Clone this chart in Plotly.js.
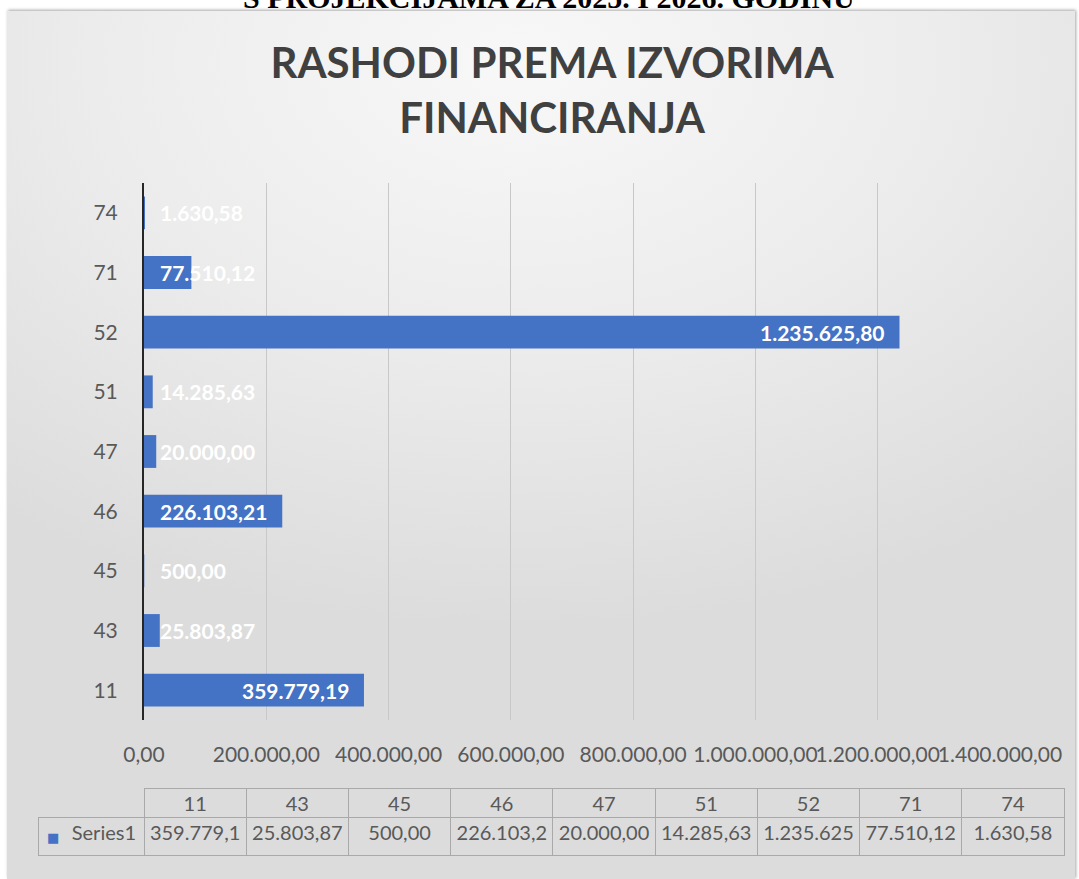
<!DOCTYPE html>
<html><head><meta charset="utf-8">
<script src="https://cdn.plot.ly/plotly-3.0.1.min.js"></script>
<style>
html,body{margin:0;padding:0;background:#fff;width:1079px;height:879px;overflow:hidden;}
#panel{position:absolute;left:7px;top:11px;width:1068px;height:868px;
background: radial-gradient(ellipse 80% 65% at 48% 6%, #f8f8f8 0%, #ececec 50%, #dcdcdc 100%);
box-shadow: 1px -1px 3px rgba(0,0,0,0.35);}
#chart{position:absolute;left:0;top:0;width:1079px;height:879px;}
</style></head><body>
<div id="panel"></div><div id="chart"></div>
<script>
const categories = ['11','43','45','46','47','51','52','71','74'];
const values = [359779.19, 25803.87, 500.00, 226103.21, 20000.00, 14285.63, 1235625.80, 77510.12, 1630.58];
const tickValues = [0,200000,400000,600000,800000,1000000,1200000,1400000];
const seriesName = 'Series1';
const chartTitle = 'RASHODI PREMA IZVORIMA<br>FINANCIRANJA';
const pageHeading = 'S PROJEKCIJAMA ZA 2025. I 2026. GODINU';
const barColor = '#4472C4';

function fmt(v){
  const s = v.toFixed(2);
  let parts = s.split('.');
  const i = parts[0].replace(/\B(?=(\d{3})+(?!\d))/g,'.');
  return i + ',' + parts[1];
}

const xMax = 1400000;
const plotPx = 856;
const annotations = categories.map((c,i)=>{
  const label = fmt(values[i]);
  const barPx = values[i]/xMax*plotPx;
  const textW = label.length*10.6;
  const fits = barPx >= textW + 24;
  return {
    xref:'x', yref:'y', x: fits ? values[i] : 0, y: i,
    text: label, showarrow:false,
    xanchor: fits ? 'right' : 'left', xshift: fits ? -13 : 14,
    yanchor:'middle',
    font:{family:'Lato, sans-serif', size:21, color:'#ffffff', weight:'bold'}
  };
});
annotations.push({
  xref:'paper', yref:'paper', x:(549-38)/1026, y:(859+3)/676,
  xanchor:'center', yanchor:'middle', showarrow:false,
  text: pageHeading,
  font:{family:'Liberation Serif, Times New Roman, serif', size:30, color:'#000000', weight:'bold'}
});
// legend key square in the data table
annotations.push({
  xref:'paper', yref:'paper', x:(53-38)/1026, y:(859-837)/676,
  xanchor:'center', yanchor:'middle', showarrow:false,
  text:'■', font:{family:'DejaVu Sans', size:13, color:barColor}
});

const headerVals = [''].concat(categories);
const cellVals = [[seriesName]].concat(values.map(v=>[fmt(v).slice(0,9)]));
const lineCol = '#a9a9a9';
const headerLine = ['rgba(0,0,0,0)'].concat(categories.map(()=>lineCol));
const cellAlign = ['right'].concat(categories.map(()=>'center'));

const traces = [
  {
    type:'bar', orientation:'h', y:categories, x:values, name:seriesName,
    marker:{color:barColor}, hoverinfo:'skip'
  },
  {
    type:'table',
    domain:{x:[0,1], y:[0, 71/676]},
    columnwidth:[106].concat(categories.map(()=>102.2)),
    header:{values:headerVals, height:29, align:'center',
      fill:{color:'rgba(0,0,0,0)'}, line:{color:headerLine, width:1},
      font:{family:'Lato, sans-serif', size:20, color:'#595959'}},
    cells:{values:cellVals, height:38, align:cellAlign,
      fill:{color:'rgba(0,0,0,0)'}, line:{color:lineCol, width:1},
      font:{family:'Lato, sans-serif', size:20, color:'#595959'}}
  }
];

const layout = {
  width:1079, height:879,
  margin:{l:38, r:15, t:183, b:20, pad:0},
  paper_bgcolor:'rgba(0,0,0,0)', plot_bgcolor:'rgba(0,0,0,0)',
  separators:',.',
  font:{family:'Lato, sans-serif', color:'#595959', size:21},
  title:{text:chartTitle, font:{family:'Lato, sans-serif', size:42, color:'#404040', weight:'bold'},
    x:552/1079, xref:'container', xanchor:'center', y:1-78/879, yref:'container', yanchor:'middle'},
  showlegend:false,
  bargap:0.45,
  xaxis:{domain:[106/1026, 962/1026], range:[0,xMax], tickmode:'array', tickvals:tickValues,
    tickformat:',.2f', tickangle:0, showgrid:true, gridcolor:'#c8c8c8', gridwidth:1,
    zeroline:false, showline:false, ticks:'', ticklabelstandoff:20, fixedrange:true, automargin:false,
    tickfont:{size:21, color:'#595959'}},
  yaxis:{domain:[139/676, 1], type:'category', categoryorder:'array', categoryarray:categories,
    range:[-0.5, categories.length-0.5],
    showline:true, linecolor:'#262626', linewidth:2, ticks:'', ticklabelstandoff:20,
    showgrid:false, zeroline:false, automargin:false, fixedrange:true,
    tickfont:{size:21, color:'#595959'}},
  annotations:annotations
};

Plotly.newPlot('chart', traces, layout, {displayModeBar:false, staticPlot:true});
</script>
</body></html>
